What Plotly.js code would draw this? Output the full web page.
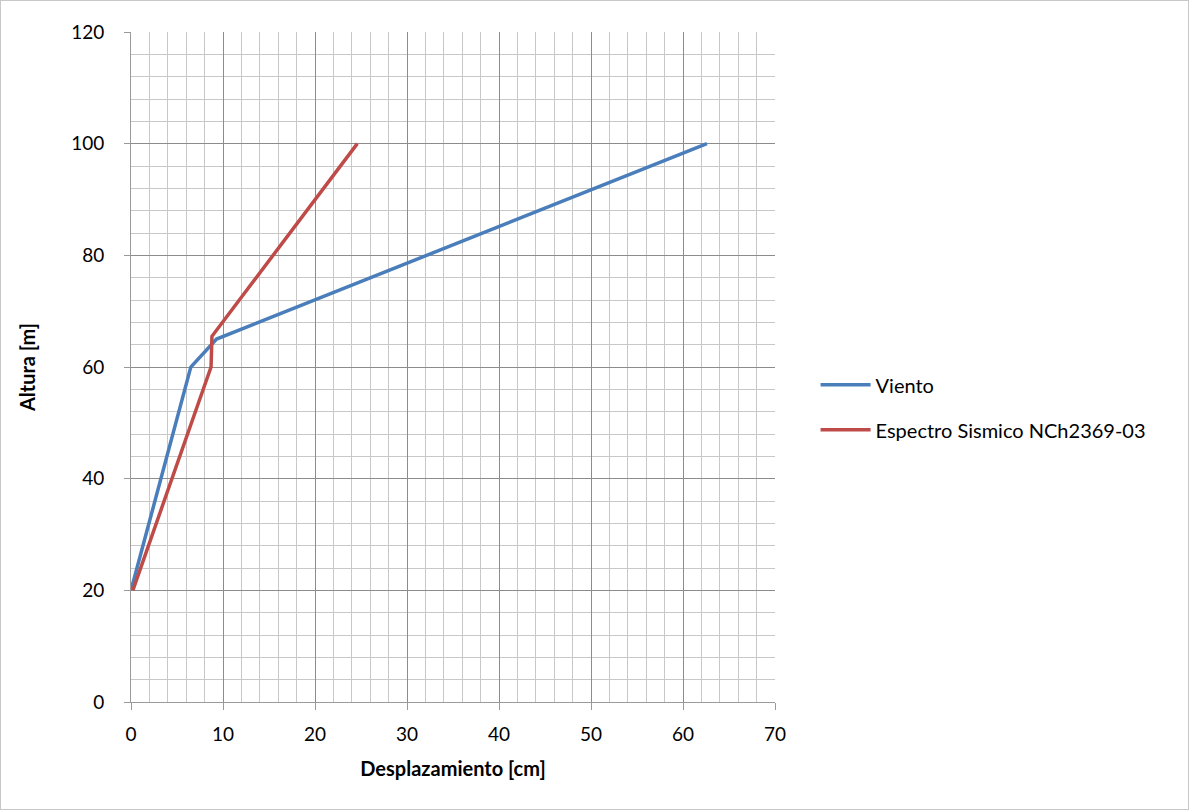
<!DOCTYPE html>
<html>
<head>
<meta charset="utf-8">
<script src="https://cdn.plot.ly/plotly-3.0.1.min.js"></script>
<style>
html,body{margin:0;padding:0;background:#fff;}
#chart{width:1189px;height:810px;box-sizing:border-box;border:1px solid #c8c8c8;}
</style>
</head>
<body>
<div id="chart"></div>
<script>
const vientoX = [0, 6.5, 9.3, 62.6];
const vientoY = [20, 60, 65, 100];
const sismoX = [0.2, 8.7, 8.8, 24.6];
const sismoY = [20, 60, 65.5, 100];
const seriesNames = ["Viento", "Espectro Sismico NCh2369-03"];
const xTitle = "Desplazamiento [cm]";
const yTitle = "Altura [m]";

const font = "Lato, Carlito, 'Liberation Sans', sans-serif";

const traces = [
  {x: vientoX, y: vientoY, mode: "lines", name: seriesNames[0], legendgroup: "a",
   line: {color: "#4a7ebb", width: 3.5}},
  {x: sismoX, y: sismoY, mode: "lines", name: seriesNames[1], legendgroup: "b",
   line: {color: "#be4b48", width: 3.5}}
];

const layout = {
  width: 1187, height: 808,
  margin: {l: 130, r: 413, t: 31, b: 107, pad: 0},
  paper_bgcolor: "#fff", plot_bgcolor: "#fff",
  font: {family: font, size: 19, color: "#000"},
  showlegend: true,
  legend: {x: 1.063, xanchor: "left", y: 0.44, yanchor: "middle",
           font: {family: font, size: 20, color: "#000"},
           tracegroupgap: 16, traceorder: "grouped", itemwidth: 50},
  xaxis: {
    range: [0, 70], dtick: 10, tick0: 0,
    showgrid: true, gridcolor: "#8c8c8c", gridwidth: 1,
    minor: {dtick: 2, showgrid: true, gridcolor: "#c8c8c8", gridwidth: 1},
    showline: true, linecolor: "#9a9a9a", linewidth: 1,
    ticks: "outside", ticklen: 7, tickcolor: "#9a9a9a",
    ticklabelstandoff: 8,
    zeroline: false, fixedrange: true,
    tickfont: {family: font, size: 19, color: "#000"},
    title: {text: "<b>" + xTitle + "</b>", font: {family: font, size: 20, color: "#000"}, standoff: 18}
  },
  yaxis: {
    range: [0, 120], dtick: 20, tick0: 0,
    showgrid: true, gridcolor: "#8c8c8c", gridwidth: 1,
    minor: {dtick: 4, showgrid: true, gridcolor: "#c8c8c8", gridwidth: 1},
    showline: true, linecolor: "#9a9a9a", linewidth: 1,
    ticks: "outside", ticklen: 6, tickcolor: "#9a9a9a",
    ticklabelstandoff: 16,
    zeroline: false, fixedrange: true,
    tickfont: {family: font, size: 19, color: "#000"},
    title: {text: "<b>" + yTitle + "</b>", font: {family: font, size: 20, color: "#000"}, standoff: 30}
  }
};

Plotly.newPlot("chart", traces, layout, {displayModeBar: false, staticPlot: true});
</script>
</body>
</html>
